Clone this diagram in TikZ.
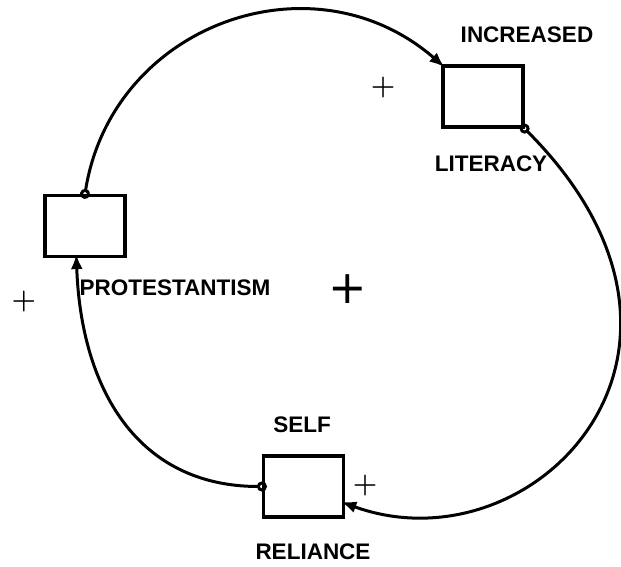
\documentclass[tikz,border=0pt]{standalone}
\usepackage{fontspec}
\newfontfamily\labelfont{Liberation Sans}
\newfontfamily\signfont{DejaVu Sans}
\usetikzlibrary{arrows.meta,positioning}

\begin{document}
\begin{tikzpicture}[
  x=1pt, y=1pt,
  stockbox/.style={
    draw,
    line width=3.2pt,
    minimum width=80pt,
    minimum height=61pt,
    inner sep=0pt
  },
  varlabel/.style={inner sep=0pt, font=\labelfont\bfseries\fontsize{22.5}{22.5}\selectfont},
  polsign/.style={inner sep=0pt, font=\bfseries\fontsize{28}{28}\selectfont},
  link/.style={
    line width=3pt,
    {Circle[open,length=10pt]}-{Latex[length=15pt,width=12pt]},
    shorten <=-5pt, shorten >=-4pt
  }
]
\useasboundingbox (0,0) rectangle (621,566);

\node[stockbox] (literacy) at (483,469.5) {};
\node[stockbox] (protest) at (85,340) {};
\node[stockbox] (selfrel) at (303.5,79.5) {};

\node[varlabel] (increased) [above=21pt of literacy, xshift=44pt] {INCREASED};
\node[varlabel] (litname) [below=27pt of literacy, xshift=8pt] {LITERACY};
\node[varlabel] (protname) [below=21pt of protest, xshift=90pt] {PROTESTANTISM};
\node[varlabel] (selfname) [above=21pt of selfrel, xshift=-1.5pt] {SELF};
\node[varlabel] (relname) [below=25pt of selfrel, xshift=9.5pt] {RELIANCE};

\node[polsign] (plit) at (383,478) {+};
\node[polsign] (pprot) at (24,264) {+};
\node[polsign] (pself) at (365,80) {+};
\node[polsign, font=\signfont\fontsize{46}{46}\selectfont] (ploop) at (348,277) {+};

\draw[link] (protest.north) .. controls +(81:171pt) and +(139:171pt) .. (literacy.north west);
\draw[link] (literacy.south east) .. controls +(-45:315pt) and +(-20:200pt) .. (selfrel.-22);
\draw[link] (selfrel.west) .. controls +(180:125pt) and +(-88:130pt) .. (protest.-105);
\end{tikzpicture}
\end{document}
